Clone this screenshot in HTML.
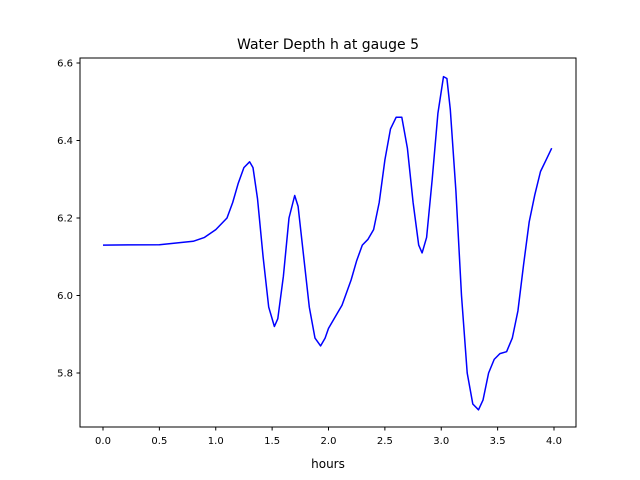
<!DOCTYPE html>
<html><head><meta charset="utf-8"><style>body{margin:0;background:#fff}svg{display:block}text{font-family:"DejaVu Sans","Liberation Sans",sans-serif}</style></head>
<body>
<svg id="chart" width="640" height="480" viewBox="0 0 640 480" xmlns="http://www.w3.org/2000/svg">
<rect width="640" height="480" fill="#fff"/>
<text x="328" y="49" text-anchor="middle" font-size="14">Water Depth h at gauge 5</text>
<g id="axes"></g>
<text x="328" y="468" text-anchor="middle" font-size="12">hours</text>
</svg>
<script>
const times=[0,0.5,0.8,0.9,1.0,1.1,1.15,1.2,1.25,1.3,1.33,1.37,1.42,1.47,1.52,1.55,1.6,1.65,1.7,1.73,1.78,1.83,1.88,1.93,1.97,2.0,2.05,2.12,2.2,2.25,2.3,2.35,2.4,2.45,2.5,2.55,2.6,2.65,2.7,2.75,2.8,2.83,2.87,2.92,2.97,3.02,3.05,3.08,3.13,3.18,3.23,3.28,3.33,3.37,3.42,3.47,3.52,3.58,3.63,3.68,3.73,3.78,3.83,3.88,3.93,3.98];
const depths=[6.13,6.131,6.14,6.15,6.17,6.2,6.24,6.29,6.33,6.345,6.33,6.25,6.1,5.97,5.92,5.94,6.05,6.2,6.258,6.23,6.1,5.97,5.89,5.87,5.89,5.915,5.94,5.975,6.04,6.09,6.13,6.145,6.17,6.24,6.35,6.43,6.46,6.46,6.38,6.24,6.13,6.11,6.15,6.3,6.47,6.565,6.56,6.48,6.27,6.0,5.8,5.72,5.705,5.73,5.8,5.835,5.85,5.855,5.89,5.96,6.08,6.19,6.26,6.32,6.35,6.38];
const xTicks=[0,0.5,1,1.5,2,2.5,3,3.5,4];
const xTickLabels=["0.0","0.5","1.0","1.5","2.0","2.5","3.0","3.5","4.0"];
const yTicks=[5.8,6.0,6.2,6.4,6.6];
const yTickLabels=["5.8","6.0","6.2","6.4","6.6"];
const L=80,R=576,T=58,B=427;
const xs=v=>103+(v-0)*(451/4);
const ys=v=>373-(v-5.8)*387.5;
const NS="http://www.w3.org/2000/svg";
const g=document.getElementById('axes');
function mk(t,a){const e=document.createElementNS(NS,t);for(const k in a)e.setAttribute(k,a[k]);g.appendChild(e);return e;}
// line
let d=times.map((t,i)=>(i?'L':'M')+xs(t).toFixed(1)+','+ys(depths[i]).toFixed(1)).join('');
const line=mk('path',{d:d,fill:'none',stroke:'#0000ff','stroke-width':1.5,'stroke-linejoin':'round'});


const frame=mk('rect',{x:L,y:T,width:R-L,height:B-T,fill:'none',stroke:'#000','stroke-width':1});


xTicks.forEach((v,i)=>{const x=xs(v);
 const tk=mk('line',{x1:x,x2:x,y1:B,y2:B+3.5,stroke:'#000'});
 
 
 const tx=mk('text',{x:x,y:B+17,'text-anchor':'middle','font-size':10});tx.textContent=xTickLabels[i];
 
 
});
yTicks.forEach((v,i)=>{const y=ys(v);
 const tk=mk('line',{x1:L-3.5,x2:L,y1:y,y2:y,stroke:'#000'});
 
 
 const tx=mk('text',{x:L-7,y:y+3.5,'text-anchor':'end','font-size':10});tx.textContent=yTickLabels[i];
 
 
});
</script>
</body></html>
